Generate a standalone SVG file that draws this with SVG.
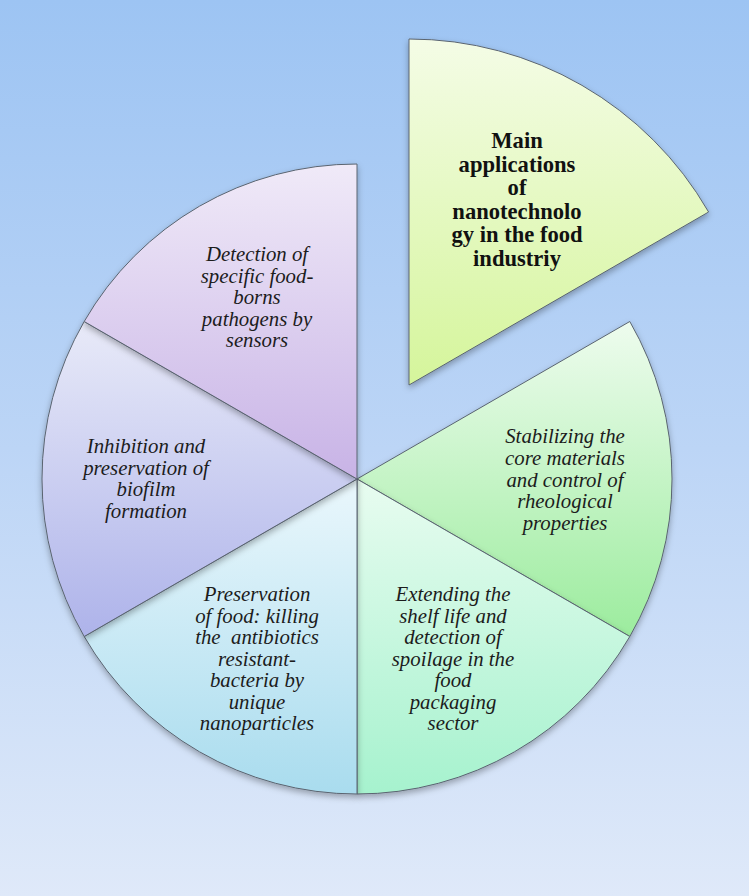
<svg xmlns="http://www.w3.org/2000/svg" width="749" height="896" viewBox="0 0 749 896">
<defs>
<linearGradient id="bg" x1="0" y1="0" x2="0" y2="1">
<stop offset="0" stop-color="#9dc4f3"/>
<stop offset="0.5" stop-color="#bcd5f6"/>
<stop offset="1" stop-color="#dfe9f9"/>
</linearGradient>
<linearGradient id="gMain" x1="0" y1="0" x2="0" y2="1">
<stop offset="0" stop-color="#f4fce6"/>
<stop offset="1" stop-color="#d5f59b"/>
</linearGradient>
<linearGradient id="gStab" x1="0" y1="0" x2="0" y2="1">
<stop offset="0" stop-color="#eefcee"/>
<stop offset="1" stop-color="#9cec9e"/>
</linearGradient>
<linearGradient id="gExt" x1="0" y1="0" x2="0" y2="1">
<stop offset="0" stop-color="#e8fcf0"/>
<stop offset="1" stop-color="#a6f2ce"/>
</linearGradient>
<linearGradient id="gPres" x1="0" y1="0" x2="0" y2="1">
<stop offset="0" stop-color="#eaf7fc"/>
<stop offset="1" stop-color="#a9dcee"/>
</linearGradient>
<linearGradient id="gInh" x1="0" y1="0" x2="0" y2="1">
<stop offset="0" stop-color="#e8eaf8"/>
<stop offset="1" stop-color="#aeb3ea"/>
</linearGradient>
<linearGradient id="gDet" x1="0" y1="0" x2="0" y2="1">
<stop offset="0" stop-color="#f0eaf8"/>
<stop offset="1" stop-color="#c8b3e6"/>
</linearGradient>
<filter id="sh" x="-10%" y="-10%" width="120%" height="125%">
<feDropShadow dx="0" dy="3" stdDeviation="3" flood-color="#000" flood-opacity="0.3"/>
</filter>
</defs>
<style>
.slice{stroke:#5a6470;stroke-width:1;filter:url(#sh);}
.lbl{font-family:"Liberation Serif","Times New Roman",serif;font-style:italic;font-size:20.8px;fill:#1c1c1c;text-anchor:middle;}
.main{font-family:"Liberation Serif","Times New Roman",serif;font-weight:bold;font-size:22.6px;fill:#111;text-anchor:middle;}
</style>
<rect x="0" y="0" width="749" height="896" fill="url(#bg)"/>
<g id="connectors"/>
<g id="node-stabilizing">
<path class="slice" fill="url(#gStab)" d="M357,479 L629.8,321.5 A315,315 0 0,1 629.8,636.5 Z"/>
<text class="lbl"><tspan x="565" y="443">Stabilizing the</tspan><tspan x="565" y="465">core materials</tspan><tspan x="565" y="486.5">and control of</tspan><tspan x="565" y="508">rheological</tspan><tspan x="565" y="529.5">properties</tspan></text>
</g>
<g id="node-extending">
<path class="slice" fill="url(#gExt)" d="M357,479 L629.8,636.5 A315,315 0 0,1 357,794 Z"/>
<text class="lbl"><tspan x="453" y="601">Extending the</tspan><tspan x="453" y="622.5">shelf life and</tspan><tspan x="453" y="644">detection of</tspan><tspan x="453" y="665.5">spoilage in the</tspan><tspan x="453" y="687">food</tspan><tspan x="453" y="708.5">packaging</tspan><tspan x="453" y="730">sector</tspan></text>
</g>
<g id="node-preservation">
<path class="slice" fill="url(#gPres)" d="M357,479 L357,794 A315,315 0 0,1 84.2,636.5 Z"/>
<text class="lbl"><tspan x="257" y="601">Preservation</tspan><tspan x="257" y="622.5">of food: killing</tspan><tspan x="257" y="644" xml:space="preserve">the  antibiotics</tspan><tspan x="257" y="665.5">resistant-</tspan><tspan x="257" y="687">bacteria by</tspan><tspan x="257" y="708.5">unique</tspan><tspan x="257" y="730">nanoparticles</tspan></text>
</g>
<g id="node-inhibition">
<path class="slice" fill="url(#gInh)" d="M357,479 L84.2,636.5 A315,315 0 0,1 84.2,321.5 Z"/>
<text class="lbl"><tspan x="146" y="453">Inhibition and</tspan><tspan x="146" y="474.5">preservation of</tspan><tspan x="146" y="496">biofilm</tspan><tspan x="146" y="517.5">formation</tspan></text>
</g>
<g id="node-detection">
<path class="slice" fill="url(#gDet)" d="M357,479 L84.2,321.5 A315,315 0 0,1 357,164 Z"/>
<text class="lbl"><tspan x="257" y="261">Detection of</tspan><tspan x="257" y="282.5">specific food-</tspan><tspan x="257" y="304">borns</tspan><tspan x="257" y="325.5">pathogens by</tspan><tspan x="257" y="347">sensors</tspan></text>
</g>
<g id="node-main">
<path class="slice" fill="url(#gMain)" d="M409,385 L409,39 A346,346 0 0,1 708.6,212 Z"/>
<text class="main"><tspan x="517" y="148">Main</tspan><tspan x="517" y="171.5">applications</tspan><tspan x="517" y="195">of</tspan><tspan x="517" y="218.5">nanotechnolo</tspan><tspan x="517" y="242">gy in the food</tspan><tspan x="517" y="265.5">industriy</tspan></text>
</g>
</svg>
